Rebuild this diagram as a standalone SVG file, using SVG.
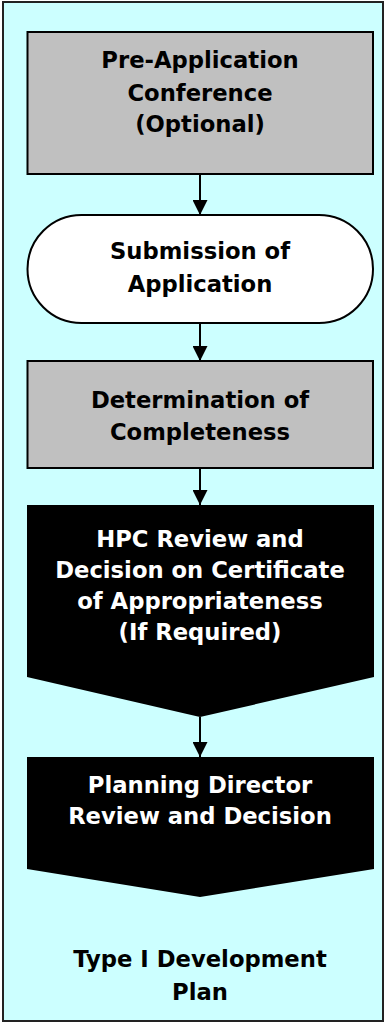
<svg xmlns="http://www.w3.org/2000/svg" width="385" height="1024" viewBox="0 0 385 1024">
<defs>
<marker id="arr" markerWidth="15" markerHeight="15" refX="15" refY="7.5" orient="auto" markerUnits="userSpaceOnUse" viewBox="0 0 15 15">
<path d="M0,0 L15,7.5 L0,15 Z" fill="#000"/>
</marker>
<style>
.t{font-family:"DejaVu Sans",sans-serif;font-weight:bold;font-size:22.7px;text-anchor:middle}
.dk{fill:#000}
.wt{fill:#fff}
.conn{stroke:#000;stroke-width:2;fill:none}
</style>
</defs>
<rect id="frame" x="3" y="2" width="380" height="1019" fill="#ccffff" stroke="#222" stroke-width="2"/>
<g id="connectors">
<line class="conn" x1="200" y1="174" x2="200" y2="215" marker-end="url(#arr)"/>
<line class="conn" x1="200" y1="323" x2="200" y2="361" marker-end="url(#arr)"/>
<line class="conn" x1="200" y1="468" x2="200" y2="505" marker-end="url(#arr)"/>
<line class="conn" x1="200" y1="717" x2="200" y2="757" marker-end="url(#arr)"/>
</g>
<g id="pre-application">
<rect x="27.5" y="32" width="345.5" height="142" fill="#c0c0c0" stroke="#000" stroke-width="2"/>
<text class="t dk" x="200" y="68">Pre-Application</text>
<text class="t dk" x="200" y="101">Conference</text>
<text class="t dk" x="200" y="132">(Optional)</text>
</g>
<g id="submission">
<rect x="27.5" y="215" width="345.5" height="108" rx="54" ry="54" fill="#fff" stroke="#000" stroke-width="2"/>
<text class="t dk" x="200" y="259">Submission of</text>
<text class="t dk" x="200" y="292">Application</text>
</g>
<g id="completeness">
<rect x="27.5" y="361" width="345.5" height="107" fill="#c0c0c0" stroke="#000" stroke-width="2"/>
<text class="t dk" x="200" y="408">Determination of</text>
<text class="t dk" x="200" y="440">Completeness</text>
</g>
<g id="hpc-review">
<polygon points="27,505 374,505 374,677 200,717 27,677" fill="#000"/>
<text class="t wt" x="200" y="547">HPC Review and</text>
<text class="t wt" x="200" y="578">Decision on Certificate</text>
<text class="t wt" x="200" y="609">of Appropriateness</text>
<text class="t wt" x="200" y="640">(If Required)</text>
</g>
<g id="director-review">
<polygon points="27,757 374,757 374,869 200,897 27,869" fill="#000"/>
<text class="t wt" x="200" y="793">Planning Director</text>
<text class="t wt" x="200" y="824">Review and Decision</text>
</g>
<g id="title">
<text class="t dk" x="200" y="967">Type I Development</text>
<text class="t dk" x="200" y="1000">Plan</text>
</g>
</svg>
